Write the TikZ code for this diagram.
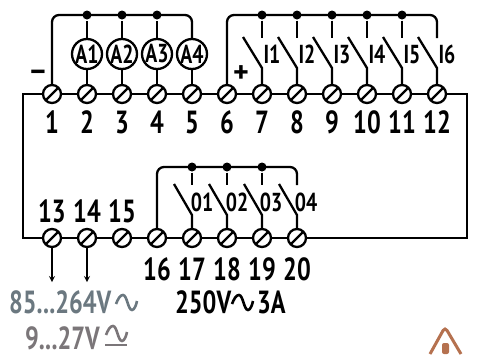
\documentclass[tikz,border=0pt]{standalone}
\usepackage{fontspec}
\setmainfont{PT Sans}[BoldFont=PT Sans Bold,FakeStretch=0.76]
\newfontfamily\signfont{PT Sans}[BoldFont=PT Sans Bold]
\definecolor{supplygrey}{HTML}{6B7880}
\definecolor{dcgrey}{HTML}{7B7679}
\definecolor{warnbrown}{HTML}{B5714F}
\tikzset{
	terminal/.style={circle, draw, fill=white, minimum size=18pt, inner sep=0pt,
		path picture={\draw (path picture bounding box.south west) -- (path picture bounding box.north east);}},
	coil/.style={circle, draw, fill=white, minimum size=30pt, inner sep=0pt, font=\fontsize{26}{26}\selectfont\bfseries},
	joint/.style={circle, fill=black, minimum size=9pt, inner sep=0pt},
	numlabel/.style={anchor=base, inner sep=0pt, font=\fontsize{32}{32}\selectfont\bfseries},
	contactlabel/.style={anchor=base, inner sep=0pt, font=\fontsize{26}{26}\selectfont\bfseries},
	signlabel/.style={anchor=base, inner sep=0pt, font=\fontsize{30}{30}\signfont\bfseries},
	acsign/.pic={\draw[line width=2.6pt, pic actions] (0,0) .. controls (2,-5) and (4,-9) .. (7,-9) .. controls (11,-9) and (12,6) .. (16,6) .. controls (18,6) and (20,2) .. (21,-3);},
}
\begin{document}
\begin{tikzpicture}[>=stealth, x=1pt, y=-1pt, line width=2.3pt]
	\useasboundingbox (0,0) rectangle (477,354);
	% top row
	\node[terminal] (t1) at (52,94) {};
	\node[terminal] (t2) at (87,94) {};
	\node[terminal] (t3) at (122,94) {};
	\node[terminal] (t4) at (157,94) {};
	\node[terminal] (t5) at (192,94) {};
	\node[terminal] (t6) at (227,94) {};
	\node[terminal] (t7) at (262,94) {};
	\node[terminal] (t8) at (297,94) {};
	\node[terminal] (t9) at (332,94) {};
	\node[terminal] (t10) at (367,94) {};
	\node[terminal] (t11) at (402,94) {};
	\node[terminal] (t12) at (437,94) {};
	\draw (t1)--(t2)--(t3)--(t4)--(t5)--(t6)--(t7)--(t8)--(t9)--(t10)--(t11)--(t12);
	\node[numlabel] (n1) at (52,133) {1};
	\node[numlabel] (n2) at (87,133) {2};
	\node[numlabel] (n3) at (122,133) {3};
	\node[numlabel] (n4) at (157,133) {4};
	\node[numlabel] (n5) at (192,133) {5};
	\node[numlabel] (n6) at (227,133) {6};
	\node[numlabel] (n7) at (262,133) {7};
	\node[numlabel] (n8) at (297,133) {8};
	\node[numlabel] (n9) at (332,133) {9};
	\node[numlabel] (n10) at (367,133) {10};
	\node[numlabel] (n11) at (402,133) {11};
	\node[numlabel] (n12) at (437,133) {12};
	% bottom row
	\node[terminal] (t13) at (52,238) {};
	\node[terminal] (t14) at (87,238) {};
	\node[terminal] (t15) at (122,238) {};
	\node[terminal] (t16) at (157,238) {};
	\node[terminal] (t17) at (192,238) {};
	\node[terminal] (t18) at (227,238) {};
	\node[terminal] (t19) at (262,238) {};
	\node[terminal] (t20) at (297,238) {};
	\draw (t13)--(t14)--(t15)--(t16)--(t17)--(t18)--(t19)--(t20);
	\node[numlabel] (n13) at (52,222) {13};
	\node[numlabel] (n14) at (87,222) {14};
	\node[numlabel] (n15) at (122,222) {15};
	\node[numlabel] (n16) at (157,280) {16};
	\node[numlabel] (n17) at (192,280) {17};
	\node[numlabel] (n18) at (227,280) {18};
	\node[numlabel] (n19) at (262,280) {19};
	\node[numlabel] (n20) at (297,280) {20};
	% frame
	\coordinate (fl) at (23,94);
	\coordinate (fr) at (467,94);
	\draw (t1) -- (fl) |- (t13);
	\draw (t12) -- (fr) |- (t20);
	% outputs A1..A4
	\node[coil] (a1) at (87,54) {A1};
	\node[coil] (a2) at (122,54) {A2};
	\node[coil] (a3) at (157,54) {A3};
	\node[coil] (a4) at (192,54) {A4};
	\node[joint] (j1) at (87,15) {};
	\node[joint] (j2) at (122,15) {};
	\node[joint] (j3) at (157,15) {};
	\coordinate (ca) at (192,15);
	\draw[rounded corners=7pt] (t1) |- (ca) -- (a4);
	\draw (t2)--(a1)--(j1);
	\draw (t3)--(a2)--(j2);
	\draw (t4)--(a3)--(j3);
	\draw (t5)--(a4);
	\node[signlabel] (minus) at (38,80) {–};
	% inputs
	\node[joint] (j4) at (262,15) {};
	\node[joint] (j5) at (297,15) {};
	\node[joint] (j6) at (332,15) {};
	\node[joint] (j7) at (367,15) {};
	\node[joint] (j8) at (402,15) {};
	\coordinate (cb) at (437,15);
	\draw[rounded corners=7pt] (t6) |- (cb) -- ++(0,23) coordinate (e12);
	\draw (j4) -- ++(0,23) coordinate (e7);
	\draw (j5) -- ++(0,23) coordinate (e8);
	\draw (j6) -- ++(0,23) coordinate (e9);
	\draw (j7) -- ++(0,23) coordinate (e10);
	\draw (j8) -- ++(0,23) coordinate (e11);
	\draw (t7) -- ++(0,-26) coordinate (w7) -- ++(-19,-31) coordinate (f7);
	\draw (t8) -- ++(0,-26) coordinate (w8) -- ++(-19,-31) coordinate (f8);
	\draw (t9) -- ++(0,-26) coordinate (w9) -- ++(-19,-31) coordinate (f9);
	\draw (t10) -- ++(0,-26) coordinate (w10) -- ++(-19,-31) coordinate (f10);
	\draw (t11) -- ++(0,-26) coordinate (w11) -- ++(-19,-31) coordinate (f11);
	\draw (t12) -- ++(0,-26) coordinate (w12) -- ++(-19,-31) coordinate (f12);
	\node[contactlabel] (i1) at (272,63) {I1};
	\node[contactlabel] (i2) at (307,63) {I2};
	\node[contactlabel] (i3) at (342,63) {I3};
	\node[contactlabel] (i4) at (377,63) {I4};
	\node[contactlabel] (i5) at (412,63) {I5};
	\node[contactlabel] (i6) at (447,63) {I6};
	\node[signlabel, font=\fontsize{30}{30}\signfont\bfseries] (plus) at (241,82) {+};
	% relays
	\node[joint] (j9) at (192,167) {};
	\node[joint] (j10) at (227,167) {};
	\node[joint] (j11) at (262,167) {};
	\coordinate (cc) at (297,167);
	\draw[rounded corners=7pt] (t16) |- (cc) -- ++(0,18) coordinate (e20);
	\draw (j9) -- ++(0,18) coordinate (e17);
	\draw (j10) -- ++(0,18) coordinate (e18);
	\draw (j11) -- ++(0,18) coordinate (e19);
	\draw (t17) -- ++(0,-23) coordinate (w17) -- ++(-18,-31) coordinate (f17);
	\draw (t18) -- ++(0,-23) coordinate (w18) -- ++(-18,-31) coordinate (f18);
	\draw (t19) -- ++(0,-23) coordinate (w19) -- ++(-18,-31) coordinate (f19);
	\draw (t20) -- ++(0,-23) coordinate (w20) -- ++(-18,-31) coordinate (f20);
	\node[contactlabel] (o1) at (202,211) {01};
	\node[contactlabel] (o2) at (237,211) {02};
	\node[contactlabel] (o3) at (271,211) {03};
	\node[contactlabel] (o4) at (306,211) {04};
	% supply
	\coordinate (s13) at (52,282);
	\coordinate (s14) at (87,282);
	\draw[->, line width=1.6pt] (t13) -- (s13);
	\draw[->, line width=1.6pt] (t14) -- (s14);
	\node[numlabel, anchor=base west, text=supplygrey] (ac) at (8,313) {85...264V};
	\pic[supplygrey] at (116,304) {acsign};
	\node[numlabel, anchor=base west, text=dcgrey] (dc) at (24,349) {9...27V};
	\pic[dcgrey] at (106,335) {acsign};
	\coordinate (dl) at (105,345);
	\coordinate (dr) at (127,345);
	\draw[dcgrey] (dl) -- (dr);
	\node[numlabel, anchor=base west] (v1) at (174,313) {250V};
	\pic at (232,304) {acsign};
	\node[numlabel, anchor=base west] (v2) at (256,313) {3A};
	% warning sign, cut by the page
	\draw[warnbrown, line width=3pt, rounded corners=4pt] (430,354) -- (445,327) -- (461,354);
	\fill[warnbrown, rounded corners=2pt] (442,354) -- (442,343) -- (449,343) -- (449,354) -- cycle;
\end{tikzpicture}
\end{document}
